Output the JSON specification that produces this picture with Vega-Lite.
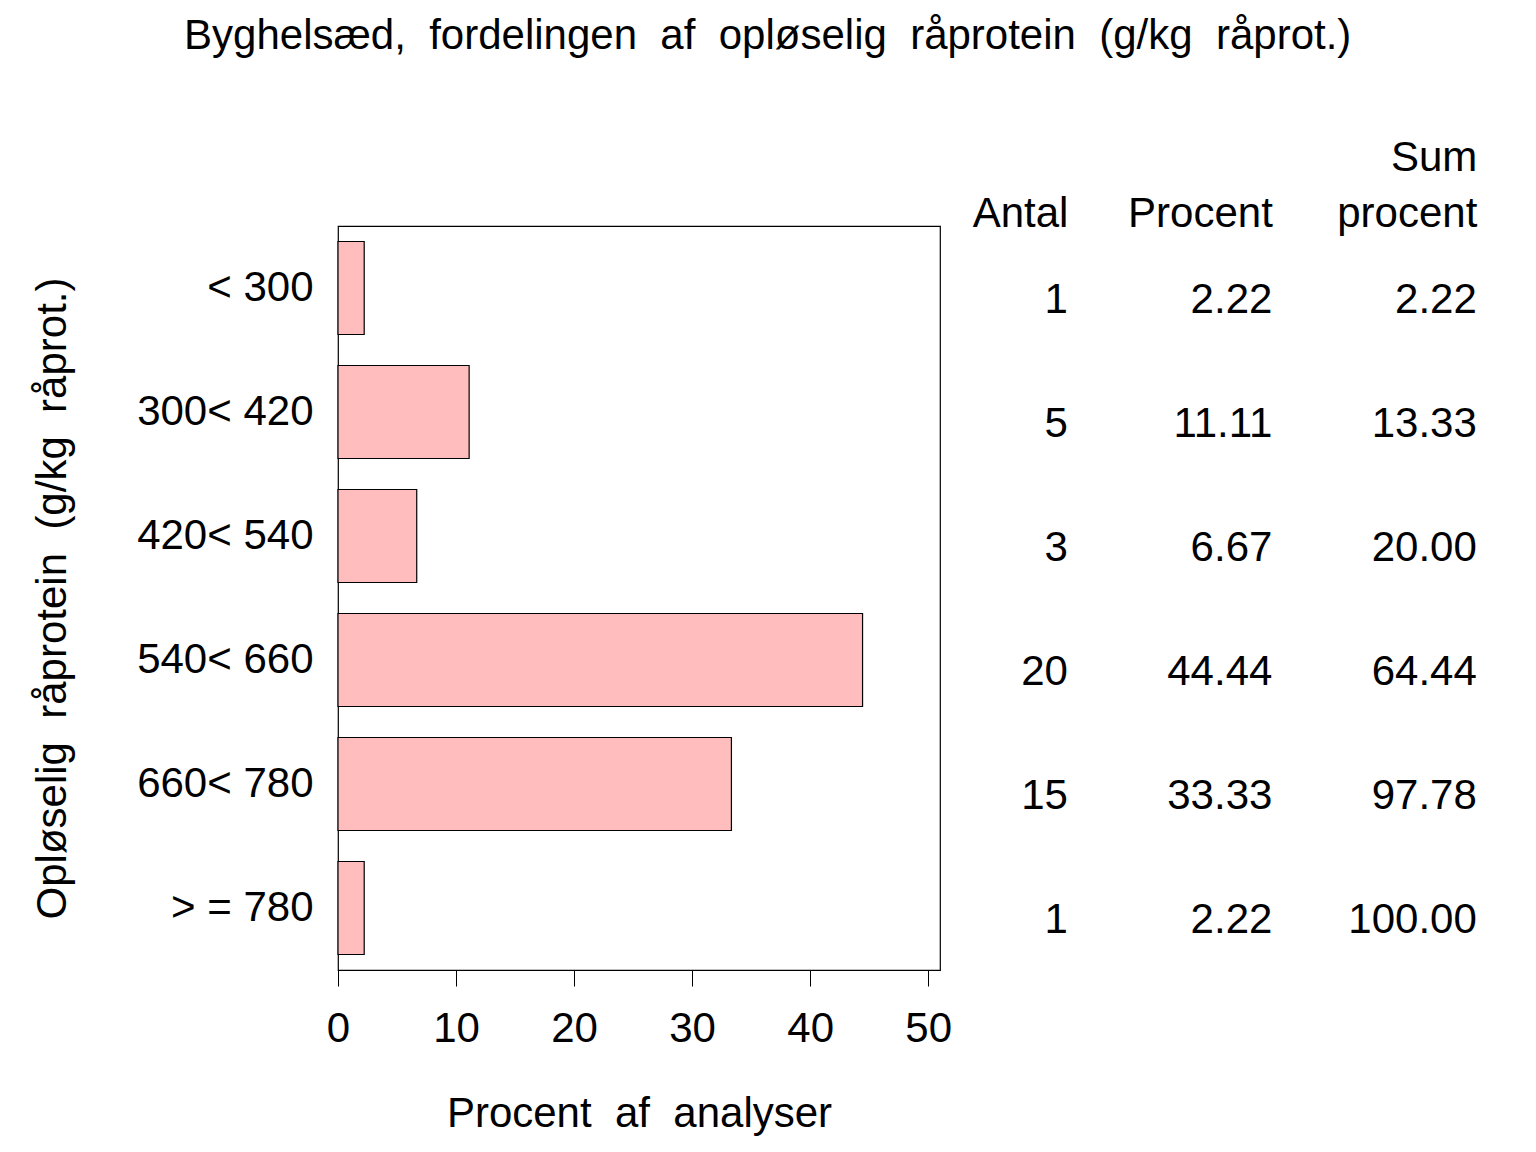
{
  "$schema": "https://vega.github.io/schema/vega-lite/v6.json",
  "background": "white",
  "padding": {"left": 30, "top": 15, "right": 0, "bottom": 10},
  "config": {
    "font": "Liberation Sans",
    "view": {"stroke": "black", "strokeWidth": 1.2},
    "axis": {
      "labelFont": "Liberation Sans",
      "titleFont": "Liberation Sans",
      "labelFontSize": 42,
      "titleFontSize": 42,
      "titleFontWeight": "normal",
      "labelColor": "black",
      "titleColor": "black",
      "domainColor": "black",
      "tickColor": "black",
      "grid": false
    },
    "title": {"font": "Liberation Sans", "fontSize": 42, "fontWeight": "normal", "color": "black"}
  },
  "title": {
    "text": "Byghelsæd,\u00a0\u00a0fordelingen\u00a0\u00a0af\u00a0\u00a0opløselig\u00a0\u00a0råprotein\u00a0\u00a0(g/kg\u00a0\u00a0råprot.)",
    "anchor": "middle",
    "offset": 78,
    "dx": -16
  },
  "data": {
    "values": [
      {"kat": "< 300", "Antal": 1, "Procent": 2.22, "Sum procent": 2.22},
      {"kat": "300< 420", "Antal": 5, "Procent": 11.11, "Sum procent": 13.33},
      {"kat": "420< 540", "Antal": 3, "Procent": 6.67, "Sum procent": 20.00},
      {"kat": "540< 660", "Antal": 20, "Procent": 44.44, "Sum procent": 64.44},
      {"kat": "660< 780", "Antal": 15, "Procent": 33.33, "Sum procent": 97.78},
      {"kat": "> = 780", "Antal": 1, "Procent": 2.22, "Sum procent": 100.00}
    ]
  },
  "spacing": 0,
  "bounds": "flush",
  "hconcat": [
    {
      "width": 602,
      "height": 744,
      "mark": {"type": "bar", "fill": "#ffbdbd", "stroke": "black", "strokeWidth": 1.2},
      "encoding": {
        "y": {
          "field": "kat",
          "type": "nominal",
          "sort": null,
          "scale": {"paddingInner": 0.25, "paddingOuter": 0.125},
          "axis": {
            "ticks": false,
            "domain": false,
            "labelPadding": 25,
            "title": "Opløselig\u00a0\u00a0råprotein\u00a0\u00a0(g/kg\u00a0\u00a0råprot.)",
            "titlePadding": 64
          }
        },
        "x": {
          "field": "Procent",
          "type": "quantitative",
          "scale": {"domain": [0, 51], "nice": false},
          "axis": {
            "values": [0, 10, 20, 30, 40, 50],
            "tickSize": 16,
            "labelPadding": 22,
            "labelFlush": false,
            "title": "Procent\u00a0\u00a0af\u00a0\u00a0analyser",
            "titlePadding": 44
          }
        }
      }
    },
    {
      "width": 597,
      "height": 744,
      "view": {"stroke": null},
      "transform": [{"fold": ["Antal", "Procent", "Sum procent"], "as": ["kol", "val"]}],
      "mark": {"type": "text", "align": "right", "dy": 12, "fontSize": 42, "color": "black"},
      "encoding": {
        "y": {
          "field": "kat",
          "type": "nominal",
          "sort": null,
          "scale": {"paddingInner": 0.25, "paddingOuter": 0.125},
          "axis": null
        },
        "x": {
          "field": "kol",
          "type": "nominal",
          "sort": ["Antal", "Procent", "Sum procent"],
          "scale": {"type": "point", "padding": 0.46, "align": 0.68},
          "axis": {
            "orient": "top",
            "ticks": false,
            "domain": false,
            "labelAngle": 0,
            "labelAlign": "right",
            "labelBaseline": "alphabetic",
            "labelPadding": 56,
            "labelLineHeight": 56,
            "labelExpr": "datum.label == 'Sum procent' ? ['Sum', 'procent'] : ['', datum.label]",
            "title": null
          }
        },
        "text": {
          "condition": {"test": "datum.kol == 'Antal'", "field": "val", "type": "quantitative", "format": "d"},
          "field": "val",
          "type": "quantitative",
          "format": ".2f"
        }
      }
    }
  ]
}
